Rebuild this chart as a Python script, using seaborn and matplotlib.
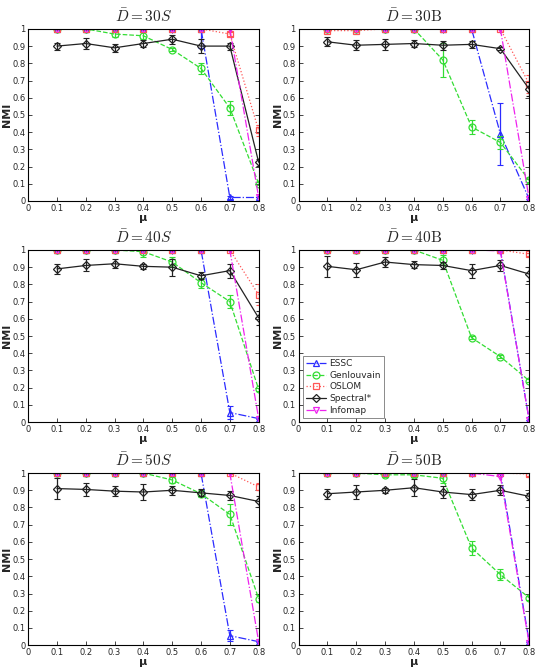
import numpy as np
import pandas as pd
import matplotlib
matplotlib.use("Agg")
import matplotlib.pyplot as plt
import seaborn as sns

mu = [0.1, 0.2, 0.3, 0.4, 0.5, 0.6, 0.7, 0.8]
methods = ["ESSC", "Genlouvain", "OSLOM", "Spectral*", "Infomap"]
titles = [r"$\bar{D}=30S$", r"$\bar{D}=30\mathrm{B}$",
          r"$\bar{D}=40S$", r"$\bar{D}=40\mathrm{B}$",
          r"$\bar{D}=50S$", r"$\bar{D}=50\mathrm{B}$"]

# NMI values, one list per method per panel
essc = [
    [1, 1, 1, 1, 1, 1, 0.02, 0.02],
    [1, 1, 1, 1, 1, 1, 0.39, 0.01],
    [1, 1, 1, 1, 1, 1, 0.055, 0.02],
    [1, 1, 1, 1, 1, 1, 1, 0.01],
    [1, 1, 1, 1, 1, 1, 0.055, 0.02],
    [1, 1, 1, 1, 1, 1, 1, 0.02],
]
genlouvain = [
    [1, 1, 0.97, 0.96, 0.88, 0.77, 0.54, 0.10],
    [1, 1, 1, 1, 0.82, 0.43, 0.34, 0.12],
    [1, 1, 1, 0.99, 0.93, 0.81, 0.70, 0.19],
    [1, 1, 1, 1, 0.94, 0.49, 0.38, 0.24],
    [1, 1, 1, 1, 0.96, 0.88, 0.76, 0.27],
    [1, 1, 0.99, 0.99, 0.97, 0.565, 0.41, 0.275],
]
oslom = [
    [1, 1, 1, 1, 1, 1, 0.97, 0.41],
    [0.99, 0.99, 1, 1, 1, 1, 1, 0.68],
    [1, 1, 1, 1, 1, 1, 1, 0.74],
    [1, 1, 1, 1, 1, 1, 1, 0.975],
    [1, 1, 1, 1, 1, 1, 1, 0.92],
    [1, 1, 1, 1, 1, 1, 1, 0.995],
]
spectral = [
    [0.90, 0.915, 0.89, 0.915, 0.94, 0.90, 0.90, 0.225],
    [0.925, 0.905, 0.91, 0.915, 0.905, 0.91, 0.885, 0.65],
    [0.89, 0.91, 0.92, 0.905, 0.90, 0.85, 0.88, 0.605],
    [0.905, 0.885, 0.93, 0.915, 0.91, 0.88, 0.91, 0.86],
    [0.91, 0.905, 0.895, 0.89, 0.90, 0.885, 0.87, 0.835],
    [0.88, 0.89, 0.90, 0.915, 0.89, 0.875, 0.90, 0.865],
]
infomap = [
    [1, 1, 1, 1, 1, 1, 1, 0.02],
    [1, 1, 1, 1, 1, 1, 1, 0.01],
    [1, 1, 1, 1, 1, 1, 1, 0.02],
    [1, 1, 1, 1, 1, 1, 0.995, 0.01],
    [1, 1, 1, 1, 1, 1, 1, 0.02],
    [1, 1, 1, 1, 1, 1, 0.98, 0.01],
]

# error bar half-widths
spectral_err = [
    [0.02, 0.03, 0.025, 0.02, 0.025, 0.04, 0.02, 0.02],
    [0.025, 0.03, 0.03, 0.02, 0.025, 0.02, 0.01, 0.04],
    [0.03, 0.035, 0.025, 0.015, 0.05, 0.02, 0.04, 0.04],
    [0.06, 0.04, 0.03, 0.02, 0.02, 0.04, 0.03, 0.04],
    [0.06, 0.04, 0.03, 0.045, 0.025, 0.02, 0.025, 0.03],
    [0.03, 0.04, 0.015, 0.05, 0.035, 0.03, 0.03, 0.02],
]
genlouvain_err = [
    [0, 0, 0.02, 0.02, 0.01, 0.03, 0.04, 0.01],
    [0, 0, 0, 0, 0.1, 0.04, 0.04, 0.01],
    [0, 0, 0, 0.03, 0.03, 0.03, 0.04, 0.01],
    [0, 0, 0, 0, 0.03, 0.01, 0.01, 0.01],
    [0, 0, 0, 0, 0.02, 0.02, 0.06, 0.02],
    [0, 0, 0.01, 0.01, 0.03, 0.04, 0.03, 0.01],
]
essc_err = [
    [0, 0, 0, 0, 0, 0.11, 0.01, 0],
    [0, 0, 0, 0, 0, 0, 0.18, 0],
    [0, 0, 0, 0, 0, 0, 0.04, 0],
    [0, 0, 0, 0, 0, 0, 0, 0],
    [0, 0, 0, 0, 0, 0, 0.03, 0],
    [0, 0, 0, 0, 0, 0, 0, 0],
]
oslom_err = [
    [0, 0, 0, 0, 0, 0, 0.01, 0.03],
    [0.01, 0.01, 0, 0, 0, 0, 0, 0.05],
    [0, 0, 0, 0, 0, 0, 0, 0.06],
    [0, 0, 0, 0, 0, 0, 0, 0.01],
    [0, 0, 0, 0, 0, 0, 0, 0.02],
    [0, 0, 0, 0, 0, 0, 0, 0.01],
]

sns.set_theme(style="white")
plt.rcParams["font.family"] = ["DejaVu Sans"]
plt.rcParams["mathtext.fontset"] = "cm"

styles = {
    "ESSC": dict(color="#2b2bff", marker="^", linestyle="-."),
    "Genlouvain": dict(color="#33dd33", marker="o", linestyle="--"),
    "OSLOM": dict(color="#ff5555", marker="s", linestyle=":"),
    "Spectral*": dict(color="#222222", marker="D", linestyle="-"),
    "Infomap": dict(color="#ee22ee", marker="v", linestyle="-."),
}

fig = plt.figure(figsize=(5.4, 6.72), dpi=100)
lefts = [0.052, 0.553]
bottoms = [0.701, 0.372, 0.040]
w, h = 0.427, 0.256

for i in range(6):
    r, c = divmod(i, 2)
    ax = fig.add_axes([lefts[c], bottoms[r], w, h])
    series = {
        "ESSC": (essc[i], essc_err[i]),
        "Genlouvain": (genlouvain[i], genlouvain_err[i]),
        "OSLOM": (oslom[i], oslom_err[i]),
        "Spectral*": (spectral[i], spectral_err[i]),
        "Infomap": (infomap[i], None),
    }
    for m in methods:
        vals, err = series[m]
        st = styles[m]
        ms = 5 if m != "Spectral*" else 4
        sns.lineplot(x=mu, y=vals, ax=ax, color=st["color"], marker=st["marker"],
                     linestyle=st["linestyle"], linewidth=0.9, markersize=ms,
                     markerfacecolor="none", markeredgecolor=st["color"],
                     markeredgewidth=0.9, label=m, legend=False)
        if err is not None:
            ax.errorbar(mu, vals, yerr=err, fmt="none", ecolor=st["color"],
                        elinewidth=0.9, capsize=2, capthick=0.8)
    ax.set_xlim(0, 0.8)
    ax.set_ylim(0, 1)
    ax.set_xticks(np.arange(0, 0.81, 0.1))
    ax.set_xticklabels(["0", "0.1", "0.2", "0.3", "0.4", "0.5", "0.6", "0.7", "0.8"])
    ax.set_yticks(np.arange(0, 1.01, 0.1))
    ax.set_yticklabels(["0", "0.1", "0.2", "0.3", "0.4", "0.5", "0.6", "0.7",
                        "0.8", "0.9", "1"])
    ax.tick_params(direction="in", length=3, width=0.6, labelsize=6, pad=2,
                   top=True, right=True, bottom=True, left=True)
    for s in ax.spines.values():
        s.set_linewidth(0.8)
        s.set_color("black")
    ax.set_xlabel("μ", fontsize=8, fontweight="bold", labelpad=0)
    ax.set_ylabel("NMI", fontsize=8, fontweight="bold", labelpad=0)
    ax.set_title(titles[i], fontsize=11, pad=5)
    if i == 3:
        leg = ax.legend(loc="lower left", fontsize=6.5, frameon=True,
                        fancybox=False, edgecolor="#555555", handlelength=2.2,
                        borderpad=0.3, labelspacing=0.3, handletextpad=0.4)
        leg.get_frame().set_linewidth(0.6)

fig.savefig("out.png", dpi=100)
